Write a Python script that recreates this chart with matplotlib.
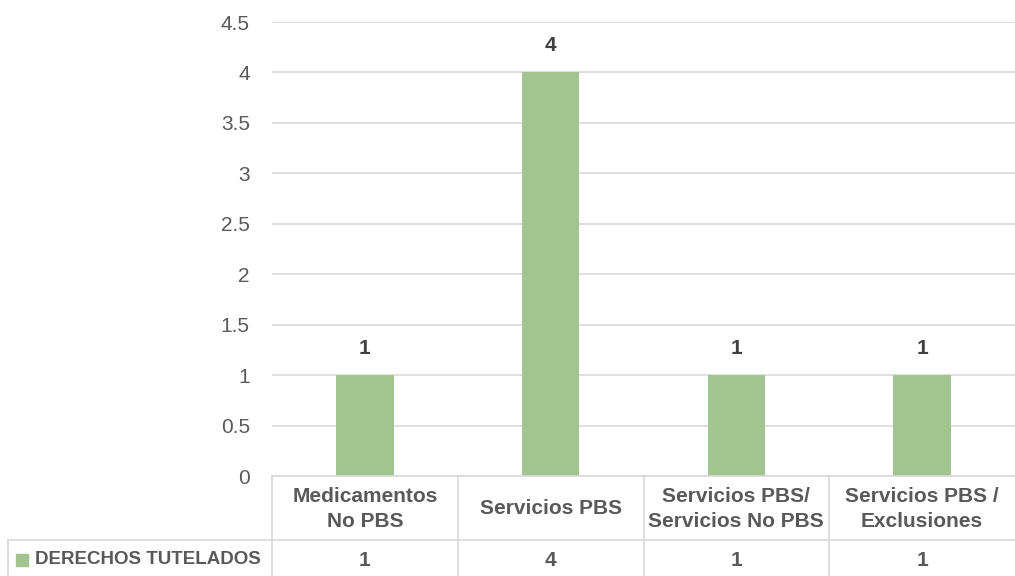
import matplotlib.pyplot as plt

categories = ["Medicamentos\nNo PBS", "Servicios PBS", "Servicios PBS/\nServicios No PBS", "Servicios PBS /\nExclusiones"]
values = [1, 4, 1, 1]
series_name = "DERECHOS TUTELADOS"
yticks = [0, 0.5, 1, 1.5, 2, 2.5, 3, 3.5, 4, 4.5]

plt.rcParams["font.family"] = ["Liberation Sans", "DejaVu Sans"]

bar_color = "#A1C490"
grid_color = "#D9D9D9"
text_color = "#595959"

W, H = 1015, 576
fig = plt.figure(figsize=(W / 100, H / 100), dpi=100)
fig.patch.set_facecolor("white")

x0, x1 = 272, 1015
y_top, y_zero = 22, 476
ax = fig.add_axes([x0 / W, 1 - y_zero / H, (x1 - x0) / W, (y_zero - y_top) / H])

n = len(categories)
xs = list(range(n))
ax.bar(xs, values, width=0.31, color=bar_color, zorder=2)
ax.set_xlim(-0.5, n - 0.5)
ax.set_ylim(0, 4.5)
ax.set_yticks(yticks)
ax.set_yticklabels([f"{t:g}" for t in yticks], fontsize=15, color=text_color)
ax.tick_params(axis="y", length=0, pad=16)
ax.set_xticks([])
ax.yaxis.grid(True, color=grid_color, linewidth=1.2, zorder=0)
for s in ax.spines.values():
    s.set_visible(False)

for x, v in zip(xs, values):
    ax.text(x, v + 0.17, str(v), ha="center", va="bottom", fontsize=15,
            fontweight="bold", color="#404040")

# data table below the axes (figure pixel coordinates)
def fx(px):
    return px / W

def fy(py):
    return 1 - py / H

row1_bottom = 540
col_w = (x1 - x0) / n
line_kw = dict(color=grid_color, linewidth=1.2, transform=fig.transFigure)
fig.add_artist(plt.Line2D([fx(x0), fx(x1)], [fy(y_zero), fy(y_zero)], **line_kw))
fig.add_artist(plt.Line2D([fx(8), fx(x1)], [fy(row1_bottom), fy(row1_bottom)], **line_kw))
for i in range(n):
    cx = x0 + i * col_w
    fig.add_artist(plt.Line2D([fx(cx), fx(cx)], [fy(y_zero), fy(H)], **line_kw))
fig.add_artist(plt.Line2D([fx(8), fx(8)], [fy(row1_bottom), fy(H)], **line_kw))

for i, (cat, v) in enumerate(zip(categories, values)):
    cx = x0 + (i + 0.5) * col_w
    fig.text(fx(cx), fy((y_zero + row1_bottom) / 2 + 1), cat, ha="center", va="center",
             fontsize=15, fontweight="bold", color=text_color, linespacing=1.45)
    fig.text(fx(cx), fy((row1_bottom + H) / 2 + 2), str(v), ha="center", va="center",
             fontsize=15, fontweight="bold", color=text_color)

fig.add_artist(plt.Rectangle((fx(16), fy(566)), 12 / W, 12 / H, color=bar_color,
                             transform=fig.transFigure))
fig.text(fx(35), fy((row1_bottom + H) / 2 + 2), series_name, ha="left", va="center",
         fontsize=13.5, fontweight="bold", color=text_color)

fig.savefig("out.png", dpi=100)
